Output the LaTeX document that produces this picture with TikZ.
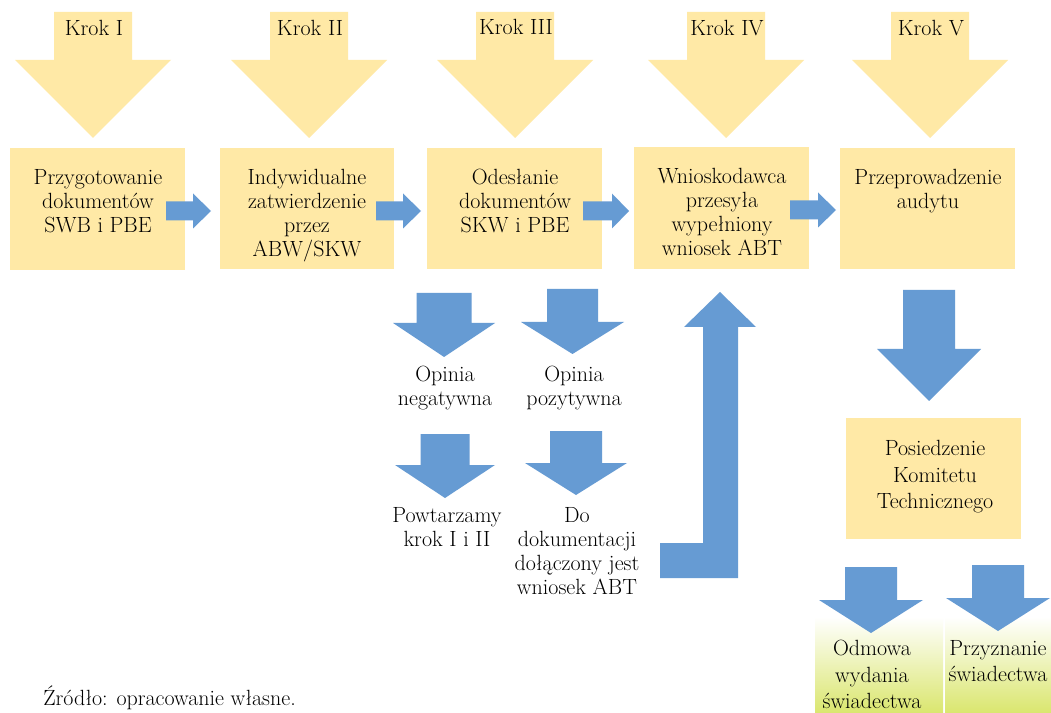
\documentclass[tikz,border=0pt]{standalone}
\usepackage{fontspec}
\definecolor{yel}{RGB}{255,233,166}
\definecolor{blu}{RGB}{102,155,211}
\definecolor{grn}{RGB}{218,230,110}
\newcommand\DownBlock[7]{% col, cx, sw, top, hb, hw, tip
  \fill[#1] ({#2-#3},#4) -- ({#2+#3},#4) -- ({#2+#3},#5) -- ({#2+#6},#5) -- (#2,#7) -- ({#2-#6},#5) -- ({#2-#3},#5) -- cycle;}
\newcommand\RightBlock[4]{% x0, xh, xt, cy
  \fill[blu] (#1,{#4-9.5}) -- (#2,{#4-9.5}) -- (#2,{#4-17.5}) -- (#3,#4) -- (#2,{#4+17.5}) -- (#2,{#4+9.5}) -- (#1,{#4+9.5}) -- cycle;}
\tikzset{
  txt/.style={inner sep=0pt, align=center, font=\fontsize{16.5}{18}\selectfont},
  txtw/.style={inner sep=0pt, align=center, font=\fontsize{16.5}{20}\selectfont},
}
\begin{document}
\begin{tikzpicture}[x=0.75pt,y=-0.75pt]
\useasboundingbox (0,0) rectangle (1051,713);
\fill[white] (0,0) rectangle (1051,713);
% top arrows
\foreach \c in {93,309,515,726,930}{\DownBlock{yel}{\c}{39}{12}{60}{78}{138}}
\node[txt, anchor=base] (k1) at (94,36) {Krok I};
\node[txt, anchor=base] (k2) at (310,36) {Krok II};
\node[txt, anchor=base] (k3) at (516,35) {Krok III};
\node[txt, anchor=base] (k4) at (727,36) {Krok IV};
\node[txt, anchor=base] (k5) at (931,36) {Krok V};
% boxes
\fill[yel] (10,148) rectangle (185,270);
\fill[yel] (220,148) rectangle (394,269);
\fill[yel] (427,148) rectangle (602,269);
\fill[yel] (634,147) rectangle (809,269);
\fill[yel] (840,148) rectangle (1015,269);
\node[txt, anchor=north] (b1) at (98,169) {Przygotowanie\\dokumentów\\SWB i PBE};
\node[txt, anchor=north] (b2) at (307,169) {Indywidualne\\zatwierdzenie\\przez\\ABW/SKW};
\node[txt, anchor=north] (b3) at (515,169) {Odesłanie\\dokumentów\\SKW i PBE};
\node[txt, anchor=north] (b4) at (722,168) {Wnioskodawca\\przesyła\\wypełniony\\wniosek ABT};
\node[txt, anchor=north] (b5) at (928,169) {Przeprowadzenie\\audytu};
% right arrows
\RightBlock{166}{193}{211}{211}
\RightBlock{376}{403}{421}{211}
\RightBlock{583}{612}{629}{211}
\RightBlock{790}{818}{836}{210}
% middle down arrows
\DownBlock{blu}{444}{27.5}{293}{323}{51}{357}
\DownBlock{blu}{572.5}{25.5}{289}{322}{51.5}{354}
\DownBlock{blu}{445}{24.5}{434}{465}{50}{498}
\DownBlock{blu}{576}{26}{431}{463}{51}{495}
\node[txt, anchor=north] (o1) at (445,366) {Opinia\\negatywna};
\node[txt, anchor=north] (o2) at (574,366) {Opinia\\pozytywna};
\node[txt, anchor=north] (p1) at (447,507) {Powtarzamy\\krok I i II};
\node[txt, anchor=north] (p2) at (577,507) {Do\\dokumentacji\\dołączony jest\\wniosek ABT};
% bent arrow
\fill[blu] (660,543) -- (703,543) -- (703,327) -- (684,327) -- (720,292) -- (756,327) -- (738,327) -- (738,578) -- (660,578) -- cycle;
% right column
\DownBlock{blu}{929}{26}{290}{349}{52}{401}
\fill[yel] (846,418) rectangle (1021,539);
\node[txtw, anchor=north] (kt) at (935,440) {Posiedzenie\\Komitetu\\Technicznego};
\shade[top color=white, bottom color=grn] (815,617) rectangle (943,713);
\shade[top color=white, bottom color=grn] (945,617) rectangle (1051,713);
\DownBlock{blu}{871}{26}{567}{600}{52}{633}
\DownBlock{blu}{998}{26}{565}{598}{52}{631}
\node[txtw, anchor=north] (r1) at (872,640) {Odmowa\\wydania\\świadectwa};
\node[txtw, anchor=north] (r2) at (998,640) {Przyznanie\\świadectwa};
% source
\node[txt, anchor=base west] (src) at (43,705) {Źródło: opracowanie własne.};
\end{tikzpicture}
\end{document}
